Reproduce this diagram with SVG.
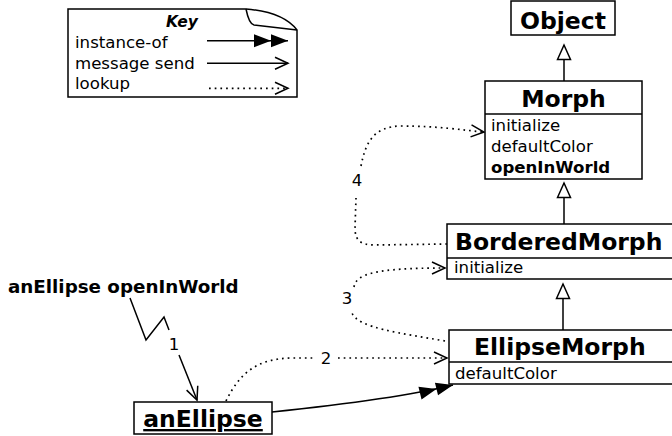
<svg xmlns="http://www.w3.org/2000/svg" width="672" height="436" viewBox="0 0 672 436">
<style>
text{font-family:"DejaVu Sans","Liberation Sans",sans-serif;fill:#000}
.title{font-size:23.5px;font-weight:bold}
.item{font-size:16.6px}
.box{fill:#fff;stroke:#000;stroke-width:1.5}
.line{fill:none;stroke:#000;stroke-width:1.5}
.dot{fill:none;stroke:#000;stroke-width:1.7;stroke-dasharray:1.7,4}
.gen{fill:none;stroke:#000;stroke-width:1.5}
</style>
<defs>
<marker id="open" markerUnits="userSpaceOnUse" markerWidth="16" markerHeight="16" refX="14" refY="7" orient="auto" overflow="visible">
<path d="M1,1 L14,7 L1,13" fill="none" stroke="#000" stroke-width="1.5"/>
</marker>
<marker id="double" markerUnits="userSpaceOnUse" markerWidth="38" markerHeight="14" refX="34" refY="6.5" orient="auto" overflow="visible">
<path d="M0,0 L17,6.5 L0,13 Z M17,0 L34,6.5 L17,13 Z" fill="#000"/>
</marker>
<marker id="tri" markerUnits="userSpaceOnUse" markerWidth="16" markerHeight="16" refX="15" refY="7" orient="auto" overflow="visible">
<path d="M0.5,0.5 L15,7 L0.5,13.5 Z" fill="#fff" stroke="#000" stroke-width="1.5"/>
</marker>
</defs>

<g id="key">
<path d="M68,9 H246 Q283,12 297,30 V97 H68 Z" class="box"/>
<path d="M246,9 Q249,24 254,25 L297,30" class="line"/>
<text x="182" y="27" text-anchor="middle" style="font-size:15.5px;font-weight:bold;font-style:italic">Key</text>
<text x="75" y="48" class="item">instance-of</text>
<text x="75" y="68.5" class="item">message send</text>
<text x="75" y="89" class="item">lookup</text>
<path d="M207,40.7 H288" class="line" marker-end="url(#double)"/>
<path d="M207,63.3 H288" class="line" marker-end="url(#open)"/>
<path d="M209,88.3 H288" class="dot" marker-end="url(#open)"/>
</g>

<g id="connectors">
<path d="M564,81 V45" class="gen" marker-end="url(#tri)"/>
<path d="M564,224 V183" class="gen" marker-end="url(#tri)"/>
<path d="M563,330 V284" class="gen" marker-end="url(#tri)"/>
<path d="M272,412 C320,407 400,398 453,385" class="line" marker-end="url(#double)"/>
<path d="M130,298 L146,340 L164,317 L169,330" class="line"/>
<path d="M179,355 L197,400" class="line" marker-end="url(#open)"/>
<text x="174" y="350" text-anchor="middle" class="item">1</text>
<path d="M226,401 C240,372 258,359 290,358 L316,358" class="dot"/>
<text x="326" y="364" text-anchor="middle" class="item">2</text>
<path d="M338,358 L447,358" class="dot" marker-end="url(#open)"/>
<path d="M445,341 C400,333 358,328 352,313" class="dot"/>
<text x="347" y="304" text-anchor="middle" class="item">3</text>
<path d="M354,287 C356,274 375,268 445,268" class="dot" marker-end="url(#open)"/>
<path d="M447,244 L375,245 C360,245 355,240 355,228 L356,198" class="dot"/>
<text x="357" y="186" text-anchor="middle" class="item">4</text>
<path d="M361,166 C366,140 375,127 400,126 C440,126 460,130 484,132" class="dot" marker-end="url(#open)"/>
</g>

<g id="Object">
<rect x="511" y="1" width="104" height="34" class="box"/>
<text x="563" y="29" text-anchor="middle" class="title">Object</text>
</g>

<g id="Morph">
<rect x="485" y="81" width="157" height="98" class="box"/>
<line x1="485" y1="114" x2="642" y2="114" class="line"/>
<text x="563.5" y="107" text-anchor="middle" class="title">Morph</text>
<text x="491" y="131" class="item">initialize</text>
<text x="491" y="152" class="item">defaultColor</text>
<text x="491" y="173" class="item" font-weight="bold">openInWorld</text>
</g>

<g id="BorderedMorph">
<rect x="447" y="224" width="232" height="55" class="box"/>
<line x1="447" y1="258" x2="679" y2="258" class="line"/>
<text x="455" y="250" class="title">BorderedMorph</text>
<text x="454" y="273" class="item">initialize</text>
</g>

<g id="EllipseMorph">
<rect x="449" y="330" width="232" height="54" class="box"/>
<line x1="449" y1="362" x2="681" y2="362" class="line"/>
<text x="474" y="355" class="title">EllipseMorph</text>
<text x="455" y="379" class="item">defaultColor</text>
</g>

<g id="anEllipse">
<rect x="134" y="402" width="138" height="32" class="box"/>
<text x="203" y="427" text-anchor="middle" class="title" text-decoration="underline">anEllipse</text>
</g>

<g id="message">
<text x="8" y="293" style="font-size:18.3px;font-weight:bold">anEllipse openInWorld</text>
</g>
</svg>
